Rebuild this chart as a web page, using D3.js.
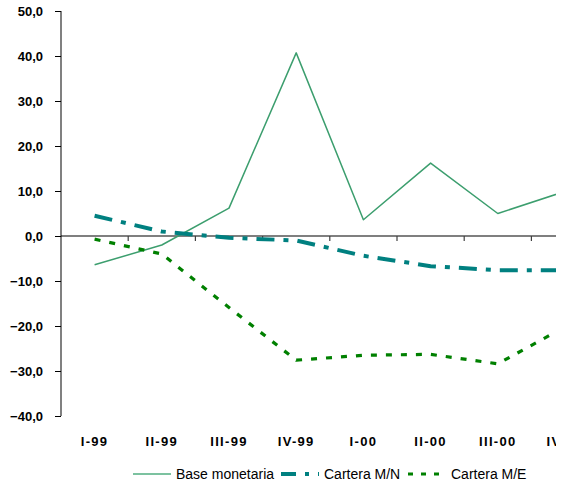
<!DOCTYPE html>
<html><head><meta charset="utf-8">
<script src="https://cdn.jsdelivr.net/npm/d3@7"></script>
<style>body{margin:0;background:#fff}svg{display:block}</style>
</head><body>
<script>
const categories = ["I-99","II-99","III-99","IV-99","I-00","II-00","III-00","IV-00"];
const baseMonetaria = [-6.4, -2.0, 6.2, 40.7, 3.6, 16.2, 5.0, 9.9];
const carteraMN = [4.5, 1.0, -0.4, -1.0, -4.4, -6.7, -7.6, -7.6];
const carteraME = [-0.7, -4.0, -15.9, -27.6, -26.5, -26.3, -28.4, -20.2];
const yTicks = [50, 40, 30, 20, 10, 0, -10, -20, -30, -40];
const seriesNames = ["Base monetaria", "Cartera M/N", "Cartera M/E"];

const W = 577, H = 488;
const left = 61, clipRight = 556, bandW = 67.2;
const svg = d3.select("body").append("svg").attr("width", W).attr("height", H);

const x = d3.scaleBand().domain(categories).range([left, left + bandW * categories.length]).padding(0);
const y = d3.scaleLinear().domain([-40, 50]).range([416, 11]);
const cx = c => x(c) + x.bandwidth() / 2;

svg.append("defs").append("clipPath").attr("id", "clip")
  .append("rect").attr("x", 0).attr("y", 0).attr("width", clipRight).attr("height", H);

// Y axis
const yAxis = d3.axisLeft(y).tickValues(yTicks).tickSize(6).tickPadding(12)
  .tickFormat(d => d3.format(".1f")(d).replace(".", ","));
const gy = svg.append("g").attr("transform", `translate(${left},0)`).call(yAxis);
gy.select(".domain").attr("stroke", "#808080").attr("stroke-width", 2).attr("d", `M0,${y(50)}V${y(-40)}`);
gy.selectAll(".tick line").attr("stroke", "#000").attr("stroke-width", 1);
gy.selectAll(".tick text").attr("font-family", "Liberation Sans, Arial, sans-serif")
  .attr("font-weight", "bold").attr("font-size", 13).attr("fill", "#000");

const plot = svg.append("g").attr("clip-path", "url(#clip)");

// X axis along zero
const xTickVals = categories.slice(1);
const gx = plot.append("g").attr("transform", `translate(0,${y(0)})`);
gx.append("line").attr("x1", left).attr("x2", left + bandW * categories.length)
  .attr("stroke", "#000").attr("stroke-width", 1.2);
gx.selectAll("line.tk").data(xTickVals).join("line").attr("class", "tk")
  .attr("x1", d => x(d)).attr("x2", d => x(d)).attr("y1", 0).attr("y2", 5)
  .attr("stroke", "#404040").attr("stroke-width", 1.2);

// X labels
plot.selectAll("text.xl").data(categories).join("text").attr("class", "xl")
  .attr("x", d => cx(d)).attr("y", 446).attr("text-anchor", "middle")
  .attr("font-family", "Liberation Sans, Arial, sans-serif").attr("font-weight", "bold")
  .attr("font-size", 13).attr("letter-spacing", 1.3).text(d => d);

const line = d3.line().x((d, i) => cx(categories[i])).y(d => y(d));
const styles = [
  {data: baseMonetaria, color: "#3c9e6e", width: 1.5, dash: null, legendColor: "#7cc2a0"},
  {data: carteraMN, color: "#008080", width: 4, dash: "18,9,5,9", legendColor: "#008080"},
  {data: carteraME, color: "#008000", width: 3.2, dash: "6,9", legendColor: "#008000"}
];
styles.forEach(s => {
  plot.append("path").datum(s.data).attr("d", line).attr("fill", "none")
    .attr("stroke", s.color).attr("stroke-width", s.width)
    .attr("stroke-dasharray", s.dash).attr("stroke-linejoin", "round");
});

// Legend
const legX = [133, 281, 408];
const lg = svg.append("g");
seriesNames.forEach((n, i) => {
  const s = styles[i];
  lg.append("line").attr("x1", legX[i]).attr("x2", legX[i] + 38).attr("y1", 474).attr("y2", 474)
    .attr("stroke", s.legendColor).attr("stroke-width", i === 0 ? 2 : s.width)
    .attr("stroke-dasharray", i === 1 ? "15,9,4,9" : (i === 2 ? "5,8" : null));
  lg.append("text").attr("x", legX[i] + 43).attr("y", 479)
    .attr("font-family", "Liberation Sans, Arial, sans-serif").attr("font-size", 14)
    .attr("fill", "#000").text(n);
});
</script>
</body></html>
